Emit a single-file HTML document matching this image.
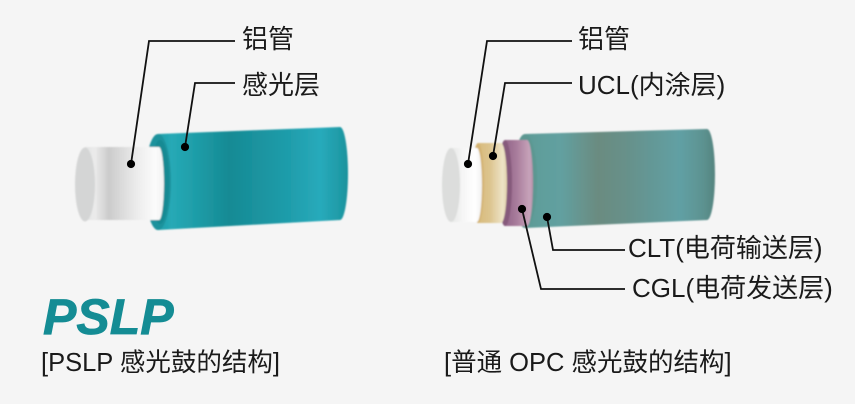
<!DOCTYPE html>
<html>
<head>
<meta charset="utf-8">
<style>
  html, body { margin: 0; padding: 0; background: #f5f5f5; }
  svg { display: block; }
  .t { font-family: "Liberation Sans", "Noto Sans CJK SC", sans-serif; font-size: 26px; fill: #1a1a1a; }
  .c { font-family: "Liberation Sans", "Noto Sans CJK SC", sans-serif; font-size: 25.5px; fill: #1a1a1a; }
</style>
</head>
<body>
<svg width="855" height="404" viewBox="0 0 855 404" xmlns="http://www.w3.org/2000/svg">
  <defs>
    <filter id="b" x="-10%" y="-10%" width="120%" height="120%">
      <feGaussianBlur stdDeviation="0.7"/>
    </filter>
    <linearGradient id="teal" gradientUnits="userSpaceOnUse" x1="158" y1="0" x2="349" y2="0">
      <stop offset="0" stop-color="#1f9ea8"/>
      <stop offset="0.07" stop-color="#26a9b6"/>
      <stop offset="0.17" stop-color="#20a0ab"/>
      <stop offset="0.37" stop-color="#158a94"/>
      <stop offset="0.54" stop-color="#1b94a0"/>
      <stop offset="0.69" stop-color="#1f9dab"/>
      <stop offset="0.85" stop-color="#28aabb"/>
      <stop offset="0.95" stop-color="#1f9ba7"/>
      <stop offset="1" stop-color="#17909b"/>
    </linearGradient>
    <linearGradient id="wl" gradientUnits="userSpaceOnUse" x1="85" y1="0" x2="165" y2="0">
      <stop offset="0" stop-color="#e2e3e3"/>
      <stop offset="0.12" stop-color="#ebebeb"/>
      <stop offset="0.3" stop-color="#cbcbcb"/>
      <stop offset="0.45" stop-color="#dadada"/>
      <stop offset="0.7" stop-color="#f0f0f0"/>
      <stop offset="0.88" stop-color="#fbfbfb"/>
      <stop offset="1" stop-color="#f0f0f0"/>
    </linearGradient>
    <linearGradient id="clt" gradientUnits="userSpaceOnUse" x1="520" y1="0" x2="715" y2="0">
      <stop offset="0" stop-color="#5a9893"/>
      <stop offset="0.1" stop-color="#5f9e9b"/>
      <stop offset="0.21" stop-color="#62a0a0"/>
      <stop offset="0.4" stop-color="#6a8b80"/>
      <stop offset="0.56" stop-color="#66918b"/>
      <stop offset="0.82" stop-color="#61a0a4"/>
      <stop offset="0.94" stop-color="#5c9290"/>
      <stop offset="1" stop-color="#55847f"/>
    </linearGradient>
    <linearGradient id="pur" gradientUnits="userSpaceOnUse" x1="505" y1="0" x2="534" y2="0">
      <stop offset="0" stop-color="#93658a"/>
      <stop offset="0.35" stop-color="#a57898"/>
      <stop offset="0.85" stop-color="#c7a3ba"/>
      <stop offset="1" stop-color="#b38aa5"/>
    </linearGradient>
    <linearGradient id="bei" gradientUnits="userSpaceOnUse" x1="478" y1="0" x2="507" y2="0">
      <stop offset="0" stop-color="#d8bb7c"/>
      <stop offset="0.4" stop-color="#dcc48e"/>
      <stop offset="0.85" stop-color="#ede3c6"/>
      <stop offset="1" stop-color="#e2d3ac"/>
    </linearGradient>
    <linearGradient id="wr" gradientUnits="userSpaceOnUse" x1="451" y1="0" x2="483" y2="0">
      <stop offset="0" stop-color="#e6e7e6"/>
      <stop offset="0.35" stop-color="#f5f5f5"/>
      <stop offset="0.75" stop-color="#ffffff"/>
      <stop offset="1" stop-color="#eeeeee"/>
    </linearGradient>
  </defs>

  <!-- LEFT: teal photosensitive layer -->
  <g filter="url(#b)">
    <path d="M158,134 L340,127 A8,46.5 0 0 1 340,220 L158,230 Z" fill="url(#teal)"/>
    <ellipse cx="158" cy="182" rx="13" ry="48" fill="#1a929c"/>
    <ellipse cx="160" cy="182" rx="9" ry="42" fill="#158a93"/>
    <!-- white aluminium tube -->
    <path d="M85,147 L159,147 A5,36.5 0 0 1 159,220 L85,220 Z" fill="url(#wl)"/>
    <ellipse cx="85" cy="184.5" rx="10" ry="37" fill="#d4d5d5"/>
  </g>

  <!-- RIGHT: CLT -->
  <g filter="url(#b)">
    <path d="M525,134 L707,129 A8,45.5 0 0 1 707,220 L525,228 Z" fill="url(#clt)"/>
    <ellipse cx="525" cy="181" rx="12" ry="47" fill="#5b9791"/>
    <!-- CGL purple -->
    <path d="M505,140 L527,140 A6,43 0 0 1 527,226 L505,226 Z" fill="url(#pur)"/>
    <ellipse cx="505" cy="183" rx="7" ry="43" fill="#865a7c"/>
    <!-- UCL beige -->
    <path d="M478,143 L501,143 A6,40 0 0 1 501,223 L478,223 Z" fill="url(#bei)"/>
    <ellipse cx="478" cy="183" rx="6" ry="40" fill="#d3b272"/>
    <!-- white tube -->
    <path d="M451,148 L477,148 A5,37 0 0 1 477,222 L451,222 Z" fill="url(#wr)"/>
    <ellipse cx="451" cy="185" rx="9" ry="37" fill="#dcdddc"/>
  </g>

  <!-- Leader lines -->
  <g stroke="#111" stroke-width="1.8" fill="none">
    <polyline points="235,41 149,41 131,164"/>
    <polyline points="235,83 195,83 185,147"/>
    <polyline points="572,41 487,41 468,164"/>
    <polyline points="572,83 505,83 493,156"/>
    <polyline points="547,217 553,250 625,250"/>
    <polyline points="522,209 541,289 625,289"/>
  </g>
  <g fill="#000">
    <circle cx="131" cy="164" r="4.1"/>
    <circle cx="185" cy="147" r="4.1"/>
    <circle cx="468" cy="164" r="4.1"/>
    <circle cx="493" cy="156" r="4.1"/>
    <circle cx="547" cy="217" r="4.1"/>
    <circle cx="522" cy="209" r="4.1"/>
  </g>

  <!-- Labels -->
  <text class="t" x="242" y="48">铝管</text>
  <text class="t" x="242" y="94">感光层</text>
  <text class="t" x="578" y="48">铝管</text>
  <text class="t" x="578" y="94">UCL(内涂层)</text>
  <text class="t" x="628" y="257">CLT(电荷输送层)</text>
  <text class="t" x="632" y="297">CGL(电荷发送层)</text>

  <!-- Bottom -->
  <text x="43" y="334" font-family="Liberation Sans, sans-serif" font-weight="bold" font-style="italic" font-size="50" fill="#148c94" stroke="#148c94" stroke-width="0.8">PSLP</text>
  <text class="c" x="41" y="371">[PSLP 感光鼓的结构]</text>
  <text class="c" x="444" y="371">[普通 OPC 感光鼓的结构]</text>
</svg>
</body>
</html>
